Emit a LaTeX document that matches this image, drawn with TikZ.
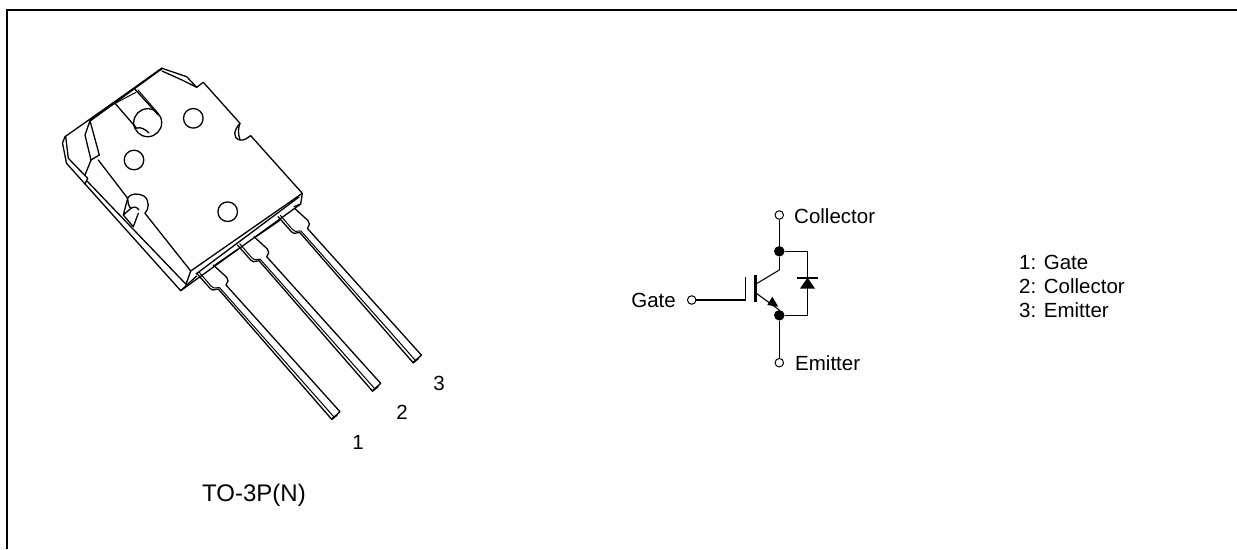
\documentclass[tikz,border=0pt]{standalone}
\usepackage{fontspec}
\setmainfont{Liberation Sans}
\tikzset{
  body/.style={line width=1.3pt,line join=round,line cap=round,black},
  wire/.style={line width=1.1pt,black},
  stem/.style={line width=1.6pt,black},
  lbl/.style={font=\fontsize{20.5}{24}\selectfont,inner sep=0pt},
  term/.style={circle,draw,line width=1pt,fill=white,minimum size=8.5pt,inner sep=0pt},
  junction/.style={circle,fill=black,minimum size=10.5pt,inner sep=0pt}
}
\begin{document}
\begin{tikzpicture}[x=1pt,y=-1pt]
\useasboundingbox (0,0) rectangle (1237,549);
\draw[line width=2pt] (7.2,549) -- (7.2,9.5) -- (1237,9.5);
% package body
\draw[body] (65,136.7) -- (162,68.3) -- (186.7,76.7) -- (196.7,87.3) -- (203.3,82.3) -- (240,123.3)
  .. controls (234,130) and (232,138) .. (240,140) .. controls (244,141) and (247,138) .. (250.7,135.7)
  -- (302.3,193.3) -- (190.7,271) -- (145,213.3);
\draw[body] (162,71) -- (182,80) -- (196.7,87.3);
\draw[body,line width=1.9pt] (90,120.7) -- (162,68.3);
\draw[body,line width=1pt] (112,105) -- (136,92.3);
\draw[body] (65,136.7) -- (62.5,143) -- (66.5,163.3) -- (180.7,290.7) -- (300.7,204) -- (302.3,193.3);
\draw[body] (65.7,136.7) -- (68.3,158.3) -- (87.7,178.3) -- (85,184);
\draw[body] (87,181) -- (186,284.3) -- (190.7,271);
\draw[body] (180.7,290.7) -- (196.7,276);
\draw[body] (196,274) -- (299,197);
\draw[body] (300.7,204) -- (294,206.7);
\draw[body] (215,265) -- (237.7,249.3);
\draw[body] (256,236.7) -- (279.3,220.7);
% left recess
\draw[body] (90,120.7) -- (85,135) -- (91,160) -- (99.3,155) -- (90,120.7);
\draw[body] (91,160) -- (85,175);
\draw[body] (98.3,160) -- (127.7,198.3) -- (123.3,215) -- (131,208.3);
\draw[body] (123.3,215) -- (133.3,226.7) -- (138.3,213.3);
\draw[body] (127,198.3) .. controls (131,193) and (138,193) .. (144,196) .. controls (150,201) and (149,209) .. (145,213.3);
\draw[body] (131,208.3) .. controls (134,206) and (137,207) .. (139,210);
\draw[body] (127.7,198.3) .. controls (128,202) and (128,206) .. (131,208.3);
\draw[body] (240,123.3) .. controls (238,128) and (238,134) .. (240,140);
% upper recess
\draw[body] (115,103.3) -- (136.7,128.3);
\draw[body] (135,89.3) -- (158.3,115);
\draw[body,line width=1pt] (138,90) -- (157,112);
\draw[body] (147.7,122.7) circle[radius=14];
\draw[body] (137,128) .. controls (141,127) and (145,129) .. (149,133);
% round marks
\draw[body] (193.3,118.3) circle[radius=9.8];
\draw[body] (134,160) circle[radius=9.8];
\draw[body] (227.7,211.7) circle[radius=9.8];
% leads
\foreach \k in {0,1,2}{
\begin{scope}[shift={(\k*40.7,-\k*28.3)}]
\draw[body] (196.7,273.3) -- (210,288.3) -- (212.7,290) -- (218.3,289) -- (331.7,419.3) -- (340,411.7)
  -- (226,285) -- (228,281) -- (226.7,277.3) -- (213.3,265);
\draw[body,line width=1pt] (199,272) -- (211,286) -- (214,288) -- (219.5,287.5) -- (334,417);
\draw[body,line width=1.7pt] (331.7,419.3) -- (337,415);
\end{scope}}
% lead numbers
\node[lbl] (n1) at (358,442) {1};
\node[lbl] (n2) at (402,412) {2};
\node[lbl] (n3) at (439,383) {3};
\node[lbl,font=\fontsize{24}{28}\selectfont,anchor=west] (pkg) at (202,495) {TO-3P(N)};
% schematic
\node[term] (cterm) at (779.3,215) {};
\node[term] (eterm) at (779.3,362.7) {};
\node[term] (gterm) at (691.7,300) {};
\node[junction] (cdot) at (779.3,251.3) {};
\node[junction] (edot) at (779.3,315.3) {};
\coordinate (gplate) at (745.5,300);
\coordinate (gtop) at (745.5,277);
\coordinate (btop) at (755.5,275);
\coordinate (bbot) at (755.5,301.7);
\coordinate (cin) at (755.5,284.3);
\coordinate (cknee) at (779.3,270);
\coordinate (ein) at (755.5,292.7);
\coordinate (eknee) at (779.3,310);
\coordinate (rt) at (807.5,251.3);
\coordinate (rb) at (807.5,315.3);
\draw[wire] (cterm) -- (cdot);
\draw[stem] (cdot) -- (cknee);
\draw[wire] (cknee) -- (cin);
\draw[wire] (eknee) -- (ein);
\draw[stem] (edot) -- (eknee);
\draw[wire] (edot) -- (eterm);
\draw[wire] (gterm) -- (gplate) -- (gtop);
\draw[wire,line width=2.3pt] (btop) -- (bbot);
\draw[wire] (cdot) -- (rt) -- (rb) -- (edot);
\fill (767.3,305) -- (778.3,306.7) -- (772.3,296.7) -- cycle;
\fill (800,288.5) -- (815,288.5) -- (807.5,277.7) -- cycle;
\draw[wire,line width=1.7pt] (797.3,277.7) -- (818.3,277.7);
\node[lbl,anchor=west] (clab) at (794,216) {Collector};
\node[lbl,anchor=west] (elab) at (795,363) {Emitter};
\node[lbl,anchor=east] (glab) at (676,300.5) {Gate};
\node[lbl,anchor=west] (k1) at (1019,262) {1: Gate};
\node[lbl,anchor=west] (k2) at (1019,286) {2: Collector};
\node[lbl,anchor=west] (k3) at (1019,310) {3: Emitter};
\end{tikzpicture}
\end{document}
